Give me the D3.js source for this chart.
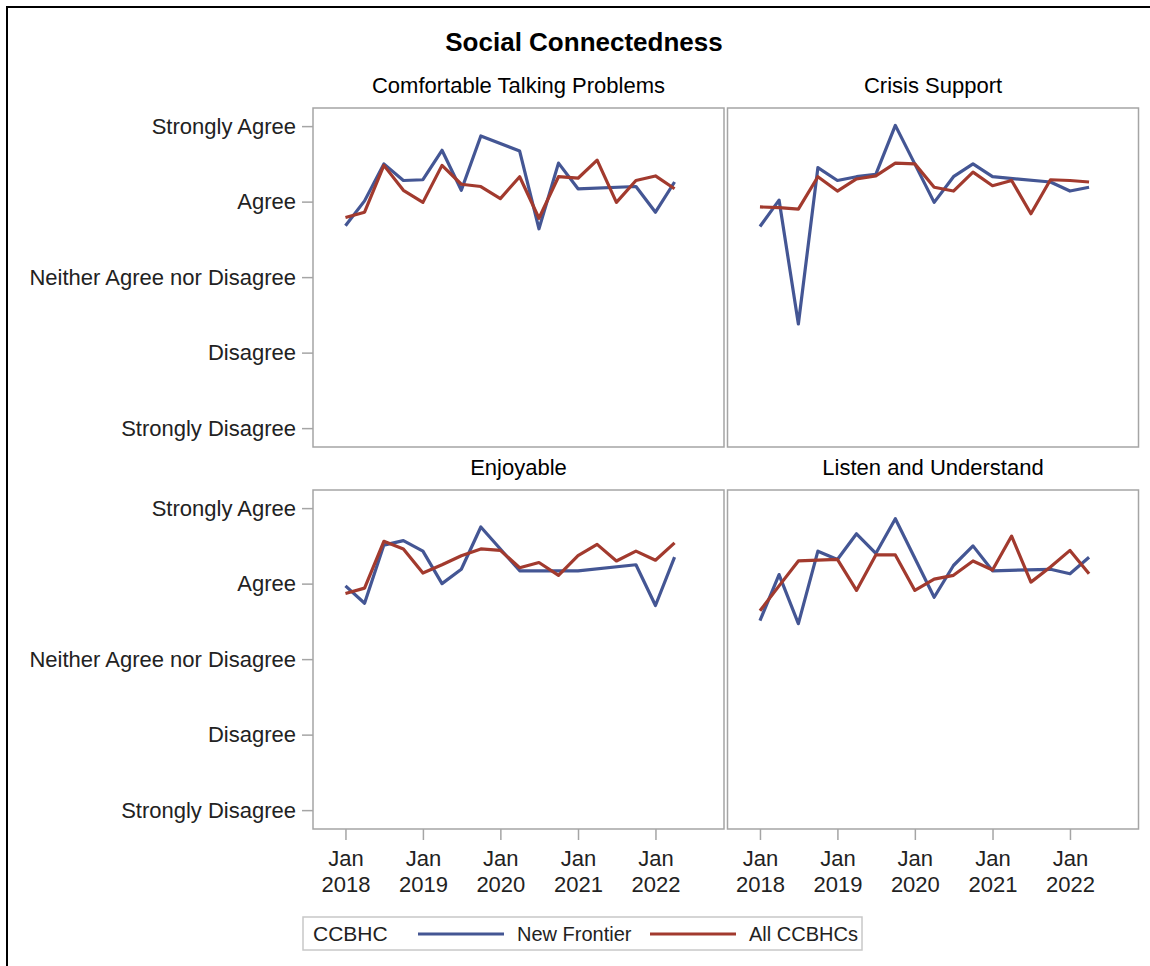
<!DOCTYPE html>
<html>
<head>
<meta charset="utf-8">
<script src="https://cdn.jsdelivr.net/npm/d3@7"></script>
<style>
  body { margin: 0; background: #fff; }
  svg { display: block; font-family: "Liberation Sans", Arial, sans-serif; }
</style>
</head>
<body>
<script>
// quarterly survey periods
var quarters = ["2018-01", "2018-04", "2018-07", "2018-10", "2019-01", "2019-04", "2019-07", "2019-10",
  "2020-01", "2020-04", "2020-07", "2020-10", "2021-01", "2021-04", "2021-07", "2021-10", "2022-01", "2022-04"];

var panels = ["Comfortable Talking Problems", "Crisis Support", "Enjoyable", "Listen and Understand"];
var seriesNames = ["New Frontier", "All CCBHCs"];
var levels = ["Strongly Disagree", "Disagree", "Neither Agree nor Disagree", "Agree", "Strongly Agree"];
var yearTicks = [2018, 2019, 2020, 2021, 2022];

// 1 = Strongly Disagree ... 5 = Strongly Agree (null = no data that quarter)
var comfortableNF  = [3.68, 4.01, 4.50, 4.28, 4.29, 4.68, 4.15, 4.87, null, 4.67, 3.64, 4.51, 4.17, null, null, 4.20, 3.86, 4.26];
var comfortableAll = [3.79, 3.86, 4.48, 4.15, 3.99, 4.48, 4.23, 4.20, 4.04, 4.33, 3.78, 4.33, 4.31, 4.55, 3.99, 4.28, 4.34, 4.17];
var crisisNF       = [3.67, 4.02, 2.38, 4.45, 4.28, 4.33, 4.36, 5.01, null, 3.99, 4.33, 4.50, 4.33, null, null, 4.26, 4.14, 4.19];
var crisisAll      = [3.93, 3.92, 3.90, 4.33, 4.14, 4.30, 4.34, 4.51, 4.50, 4.19, 4.14, 4.39, 4.21, 4.28, 3.84, 4.29, 4.28, 4.26];
var enjoyableNF    = [3.97, 3.74, 4.51, 4.57, 4.43, 4.00, 4.19, 4.75, null, 4.17, 4.17, 4.17, 4.17, null, null, 4.25, 3.71, 4.35];
var enjoyableAll   = [3.87, 3.94, 4.56, 4.46, 4.14, 4.25, 4.37, 4.46, 4.44, 4.21, 4.28, 4.11, 4.37, 4.52, 4.30, 4.43, 4.31, 4.54];
var listenNF       = [3.51, 4.12, 3.47, 4.43, 4.32, 4.66, 4.40, 4.86, null, 3.82, 4.24, 4.50, 4.17, null, null, 4.19, 4.13, 4.35];
var listenAll      = [3.64, 3.97, 4.30, 4.31, 4.32, 3.91, 4.38, 4.38, 3.91, 4.06, 4.11, 4.30, 4.18, 4.63, 4.02, 4.22, 4.44, 4.13];

var nfValues = [comfortableNF, crisisNF, enjoyableNF, listenNF];
var allValues = [comfortableAll, crisisAll, enjoyableAll, listenAll];
var colors = ["#445694", "#A23A2E"];

var W = 1150, H = 966;
var svg = d3.select("body").append("svg").attr("width", W).attr("height", H);

// outer frame
svg.append("rect").attr("x", 7).attr("y", 7).attr("width", W).attr("height", H)
  .attr("fill", "none").attr("stroke", "#000").attr("stroke-width", 2);

svg.append("text").attr("x", 584).attr("y", 51).attr("text-anchor", "middle")
  .attr("font-size", 26).attr("font-weight", "bold").attr("fill", "#000")
  .text("Social Connectedness");

var pw = 411, ph = 339;
var cols = [313, 727.5], rows = [108, 490];

var parseQ = d3.timeParse("%Y-%m");
var x = d3.scaleTime()
  .domain([new Date(2017, 7, 1), new Date(2022, 10, 20)])
  .range([0, pw]);
var y = d3.scaleLinear().domain([0.75, 5.24]).range([ph, 0]);

var line = d3.line()
  .x(function(d) { return x(d.date); })
  .y(function(d) { return y(d.v); });

panels.forEach(function(name, i) {
  var c = i % 2, r = Math.floor(i / 2);
  var g = svg.append("g").attr("transform", "translate(" + cols[c] + "," + rows[r] + ")");

  g.append("text").attr("x", pw / 2).attr("y", -15).attr("text-anchor", "middle")
    .attr("font-size", 22).attr("fill", "#000").text(name);

  g.append("rect").attr("width", pw).attr("height", ph)
    .attr("fill", "#fff").attr("stroke", "#a5a5a5").attr("stroke-width", 1.5);

  if (c == 0) {
    var ya = g.append("g").call(d3.axisLeft(y)
      .tickValues([1, 2, 3, 4, 5])
      .tickFormat(function(d) { return levels[d - 1]; })
      .tickSize(11).tickPadding(6));
    ya.select(".domain").remove();
    ya.selectAll("line").attr("stroke", "#a5a5a5").attr("stroke-width", 1.5);
    ya.selectAll("text").attr("font-size", 22).attr("fill", "#222")
      .attr("font-family", "Liberation Sans, Arial, sans-serif");
  }

  if (r == 1) {
    var xa = g.append("g").attr("transform", "translate(0," + ph + ")")
      .call(d3.axisBottom(x)
        .tickValues(yearTicks.map(function(yr) { return new Date(yr, 0, 1); }))
        .tickFormat("")
        .tickSize(11));
    xa.select(".domain").remove();
    xa.selectAll("line").attr("stroke", "#a5a5a5").attr("stroke-width", 1.5);
    xa.selectAll(".tick").each(function(d) {
      var t = d3.select(this);
      ["Jan", d.getFullYear()].forEach(function(s, k) {
        t.append("text").attr("y", 37 + k * 26)
          .attr("text-anchor", "middle").attr("font-size", 22).attr("fill", "#222")
          .attr("font-family", "Liberation Sans, Arial, sans-serif").text(s);
      });
    });
  }

  [nfValues[i], allValues[i]].forEach(function(vals, s) {
    var pts = quarters.map(function(q, k) { return { date: parseQ(q), v: vals[k] }; })
      .filter(function(d) { return d.v != null; });
    g.append("path").datum(pts).attr("d", line)
      .attr("fill", "none").attr("stroke", colors[s]).attr("stroke-width", 3.2)
      .attr("stroke-linejoin", "round");
  });
});

// legend
var lg = svg.append("g").attr("transform", "translate(303,917)");
lg.append("rect").attr("width", 559).attr("height", 33)
  .attr("fill", "#fff").attr("stroke", "#c8c8c8").attr("stroke-width", 1.5);
lg.append("text").attr("x", 10).attr("y", 24).attr("font-size", 21).attr("fill", "#222").text("CCBHC");
var lx = [115, 347];
seriesNames.forEach(function(n, s) {
  lg.append("line").attr("x1", lx[s]).attr("x2", lx[s] + 86).attr("y1", 17).attr("y2", 17)
    .attr("stroke", colors[s]).attr("stroke-width", 3);
  lg.append("text").attr("x", lx[s] + 99).attr("y", 24).attr("font-size", 20).attr("fill", "#222").text(n);
});
</script>
</body>
</html>
